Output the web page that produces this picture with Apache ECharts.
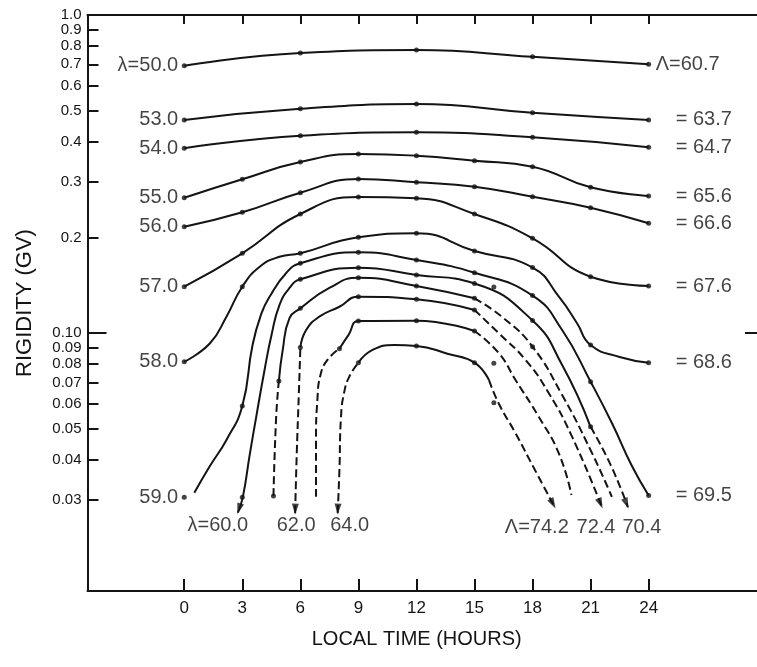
<!DOCTYPE html>
<html><head><meta charset="utf-8">
<script src="https://cdn.jsdelivr.net/npm/echarts@6/dist/echarts.min.js"></script>
<style>html,body{margin:0;padding:0;background:#fff}#c{width:757px;height:667px}</style>
</head><body><div id="c"></div>
<script>
// ---------------- DATA ----------------
const xTicks = [0, 3, 6, 9, 12, 15, 18, 21, 24];
const yTicks = [0.99999, 0.9, 0.8, 0.7, 0.6, 0.5, 0.4, 0.3, 0.2, 0.1, 0.09, 0.08, 0.07, 0.06, 0.05, 0.04, 0.03];
const yTopTick = [0.99999];

// curves: [local time (h), rigidity (GV)]
const curve50 = [[0,0.693],[6,0.760],[12,0.776],[18,0.739],[24,0.700]];
const curve53 = [[0,0.468],[6,0.507],[12,0.525],[18,0.493],[24,0.468]];
const curve54 = [[0,0.381],[6,0.4175],[12,0.428],[18,0.4126],[24,0.384]];
const curve55 = [[0,0.2666],[3,0.3046],[6,0.3451],[9,0.3658],[12,0.3613],[15,0.3484],[18,0.3337],[21,0.2874],[24,0.2699]];
const curve56 = [[0,0.2161],[3,0.2399],[6,0.2764],[9,0.3051],[12,0.2979],[15,0.2887],[18,0.2685],[21,0.2480],[24,0.2215]];
const curve57 = [[0,0.1400],[3,0.1783],[6,0.2369],[9,0.2679],[12,0.2654],[15,0.2369],[18,0.1987],[21,0.1505],[24,0.1407]];
const curve58 = [[0,0.0813],[1.33,0.0930],[2.18,0.1127],[3,0.1400],[3.9,0.1618],[4.92,0.1739],[6,0.1783],[9,0.2002],[12,0.2061],[15,0.1813],[18,0.1608],[19.36,0.1302],[20.3,0.1075],[21,0.0918],[22.5,0.0842],[24,0.0808]];
const curve59 = [[0.52,0.0315],[1.31,0.0381],[2.18,0.0462],[3,0.0590],[3.53,0.0918],[4.0,0.1158],[4.41,0.1302],[5.27,0.1546],[6,0.1658],[9,0.1796],[12,0.1698],[15,0.1549],[18,0.1313],[19.53,0.1023],[21,0.0704],[22.1,0.0522],[23.13,0.0383],[24,0.0309]];
const curve60 = [[2.77,0.0273],[3.03,0.0306],[3.38,0.0414],[3.72,0.0546],[4.15,0.0766],[4.51,0.0987],[4.92,0.1226],[5.44,0.1387],[6,0.1477],[9,0.1606],[12,0.1524],[15,0.1433],[18,0.1096],[19.53,0.0794],[21,0.0508],[22.04,0.0385],[22.93,0.0284]];
const curve61 = [[4.61,0.0308],[4.75,0.0546],[4.89,0.0708],[5.09,0.0886],[5.44,0.1116],[6,0.1197],[7.5,0.1387],[9,0.1494],[12,0.1407],[15,0.1287],[16.5,0.1116],[18,0.0907],[19.53,0.0639],[21,0.0429],[22.1,0.0306]];
const curve62 = [[5.73,0.0272],[5.82,0.0429],[5.92,0.0639],[6,0.0902],[6.30,0.1023],[6.98,0.1127],[8.02,0.1211],[9,0.1302],[12,0.1278],[15,0.1183],[16.26,0.0999],[17.64,0.0824],[18.84,0.0648],[20.04,0.0473],[21.59,0.0284]];
const curve63 = [[6.81,0.0306],[6.81,0.0462],[6.88,0.0617],[7.04,0.0739],[7.40,0.0824],[8.02,0.0894],[8.5,0.0990],[9,0.1092],[12,0.1095],[15,0.1016],[16.26,0.0865],[17.12,0.0713],[18.32,0.0546],[19.36,0.0419],[20.01,0.0310]];
const curve64 = [[7.93,0.0272],[8.02,0.0372],[8.10,0.0546],[8.27,0.0654],[8.53,0.0730],[9,0.0808],[9.73,0.0886],[10.85,0.0918],[12,0.0912],[13.6,0.0862],[15,0.0808],[15.75,0.0712],[16.26,0.0600],[17.12,0.0485],[18.12,0.0372],[19.15,0.0284]];

// measured points (dots)
const dots58 = [[0,0.0813],[3,0.1400],[6,0.1783],[9,0.2002],[12,0.2061],[15,0.1813],[18,0.1608],[21,0.0918],[24,0.0808]];
const dots59 = [[0,0.0305],[3,0.0590],[6,0.1658],[9,0.1796],[12,0.1698],[15,0.1549],[18,0.1313],[21,0.0704],[24,0.0309]];
const dots60 = [[3,0.0305],[6,0.1477],[9,0.1606],[12,0.1524],[15,0.1433],[18,0.1096],[21,0.0508]];
const dots61 = [[4.61,0.0308],[4.89,0.0708],[6,0.1197],[9,0.1494],[12,0.1407],[15,0.1287],[18,0.0907]];
const dots62 = [[6,0.0902],[9,0.1302],[12,0.1278],[15,0.1183]];
const dots63 = [[8.02,0.0894],[9,0.1092],[12,0.1095],[15,0.1016]];
const dots64 = [[9,0.0808],[12,0.0912],[15,0.0808]];
const dotsExtra = [[16,0.1397],[16,0.0804],[16,0.0605]];

const leftNames  = ['λ=50.0','53.0','54.0','55.0','56.0','57.0','58.0','59.0'];
const rightNames = ['Λ=60.7','= 63.7','= 64.7','= 65.6','= 66.6','= 67.6','= 68.6','= 69.5'];
const bottomStartNames = ['λ=60.0','62.0','64.0'];
const bottomEndNames   = ['70.4','72.4','Λ=74.2'];

// ---------------- STYLE / BUILD ----------------
const INK = '#141414';
function hasFont(name){
  const ctx=document.createElement('canvas').getContext('2d');
  const s='λ=50.0 57.0 ABCDEFGHIJKLMNOPQRSTUVWXYZ';
  for (const base of ['monospace','serif']){
    ctx.font='40px '+base; const w1=ctx.measureText(s).width;
    ctx.font="40px '"+name+"', "+base; const w2=ctx.measureText(s).width;
    if (Math.abs(w1-w2)>0.5) return true;
  }
  return false;
}
const REG = "'Liberation Sans', Arial, sans-serif";
const narrowOK = hasFont('Liberation Sans Narrow');
const curveFont = narrowOK ? {fontFamily:"'Liberation Sans Narrow', sans-serif", fontSize:24} : {fontFamily:REG, fontSize:20};

const YMIN = 0.01548, YMAX = 1, XMIN = -5, XMAX = 29.6;

const series = [];
function addCurve(pts, segs){
  segs = segs || [[0, pts.length-1, false]];
  segs.forEach(([a,b,dashed])=>{
    series.push({type:'line', data: pts.slice(a,b+1), smooth:0.5, showSymbol:false, symbol:'none',
      lineStyle:{color:INK, width:2, type: dashed ? [8,4] : 'solid'}, silent:true, z:2, animation:false});
  });
}
[curve50,curve53,curve54,curve55,curve56,curve57,curve58,curve59].forEach(c=>addCurve(c));
addCurve(curve60, [[0,14,false],[14,16,true]]);
addCurve(curve61, [[0,2,true],[2,9,false],[9,14,true]]);
addCurve(curve62, [[0,3,true],[3,9,false],[9,14,true]]);
addCurve(curve63, [[0,5,true],[5,9,false],[9,14,true]]);
addCurve(curve64, [[0,5,true],[5,11,false],[11,15,true]]);

const allDots = [].concat(curve50,curve53,curve54,curve55,curve56,curve57,dots58,dots59,dots60,dots61,dots62,dots63,dots64,dotsExtra);
series.push({type:'scatter', data:allDots, symbol:'circle', symbolSize:5, itemStyle:{color:INK}, z:3, silent:true, animation:false});

// labels
const leftAnchors  = [curve50,curve53,curve54,curve55,curve56,curve57,dots58,dots59];
const labelData = [];
leftAnchors.forEach((c,i)=>{
  labelData.push({value:c[0], label:{show:true, formatter:leftNames[i], position:'left', distance:6, color:INK, ...curveFont}});
  const last=c[c.length-1];
  const isLam = rightNames[i].startsWith('Λ');
  labelData.push({value:last, label:{show:true, formatter:rightNames[i], position:'right', distance:isLam?7:27, color:INK, ...curveFont}});
});
const startCurves=[curve60,curve62,curve64];
const startOffsets=[[-20,12.5],[1,12],[12,12]];
startCurves.forEach((c,i)=>labelData.push({value:c[0], label:{show:true, formatter:bottomStartNames[i], position:'inside', offset:startOffsets[i], color:INK, ...curveFont}}));
const endOffsets=[[14,20],[-6,20],[-18,20]];
startCurves.forEach((c,i)=>labelData.push({value:c[c.length-1], label:{show:true, formatter:bottomEndNames[i], position:'inside', offset:endOffsets[i], color:INK, ...curveFont}}));
series.push({type:'scatter', data:labelData, symbolSize:0.1, itemStyle:{color:'rgba(0,0,0,0)'}, z:4, silent:true, animation:false});

series.push({id:'arrows', type:'scatter', data:[], symbol:'triangle', symbolSize:[7,11], itemStyle:{color:INK}, z:3, silent:true, animation:false});

const axisLineStyle = {color:INK, width:2};
const yLabelStyle = {fontSize:15, margin:6, color:INK, fontFamily:REG, formatter:(v)=> v>=0.15 ? v.toFixed(1) : v.toFixed(2)};
const option = {
  animation:false,
  backgroundColor:'#fff',
  grid:{left:87.5, top:15, width:671.2, height:576, containLabel:false},
  xAxis:[
    {type:'value', position:'bottom', min:XMIN, max:XMAX,
     axisLine:{show:true, onZero:false, lineStyle:axisLineStyle},
     axisTick:{show:true, inside:true, length:12, customValues:xTicks, lineStyle:axisLineStyle},
     axisLabel:{customValues:xTicks, fontSize:17, margin:9, color:INK, fontFamily:REG},
     splitLine:{show:false},
     name:'LOCAL TIME (HOURS)', nameLocation:'middle', nameGap:38,
     nameTextStyle:{fontSize:20, fontFamily:REG, color:INK, padding:[0,11,0,0]}},
    {type:'value', position:'top', min:XMIN, max:XMAX,
     axisLine:{show:true, onZero:false, lineStyle:axisLineStyle},
     axisTick:{show:true, inside:true, length:9, customValues:xTicks, lineStyle:axisLineStyle},
     axisLabel:{show:false}, splitLine:{show:false}}
  ],
  yAxis:[
    {type:'log', logBase:10, position:'left', min:YMIN, max:YMAX,
     axisLine:{show:true, onZero:false, lineStyle:axisLineStyle},
     axisTick:{show:true, inside:true, length:11, customValues:yTicks, lineStyle:axisLineStyle},
     axisLabel:Object.assign({customValues:yTicks.slice(1), showMaxLabel:true, showMinLabel:true}, yLabelStyle),
     splitLine:{show:false}, minorTick:{show:false},
     name:'RIGIDITY (GV)', nameLocation:'middle', nameGap:52,
     nameTextStyle:{fontSize:22, fontFamily:REG, color:INK}},
    {type:'log', logBase:10, position:'left', min:YMIN, max:YMAX,
     axisLine:{show:false, onZero:false},
     axisTick:{show:true, inside:true, length:19, customValues:[0.1], lineStyle:axisLineStyle},
     axisLabel:Object.assign({customValues:yTopTick, showMaxLabel:true}, yLabelStyle),
     splitLine:{show:false}},
    {type:'log', logBase:10, position:'right', min:YMIN, max:YMAX,
     axisLine:{show:false, onZero:false},
     axisTick:{show:true, inside:true, length:12, customValues:[0.1], lineStyle:axisLineStyle},
     axisLabel:{show:false}, splitLine:{show:false}}
  ],
  series: series
};
const chart = echarts.init(document.getElementById('c'), null, {renderer:'canvas'});
chart.setOption(option);

// arrowheads at line ends, oriented along the curve
const arrowSpecs = [[curve60,'start'],[curve62,'start'],[curve64,'start'],[curve60,'end'],[curve62,'end'],[curve64,'end']];
const finder = {xAxisIndex:0, yAxisIndex:0};
const arrowData = arrowSpecs.map(([c,which])=>{
  const tip  = which==='start' ? c[0] : c[c.length-1];
  const prev = which==='start' ? c[1] : c[c.length-2];
  const pt = chart.convertToPixel(finder, tip);
  const pp = chart.convertToPixel(finder, prev);
  let dx=pt[0]-pp[0], dy=pt[1]-pp[1]; const L=Math.hypot(dx,dy)||1; dx/=L; dy/=L;
  const center=[pt[0]-dx*4, pt[1]-dy*4];
  return {value: chart.convertFromPixel(finder, center), symbolRotate: Math.atan2(-dx,-dy)*180/Math.PI};
});
chart.setOption({series:[{id:'arrows', data:arrowData}]});
</script>
</body></html>
